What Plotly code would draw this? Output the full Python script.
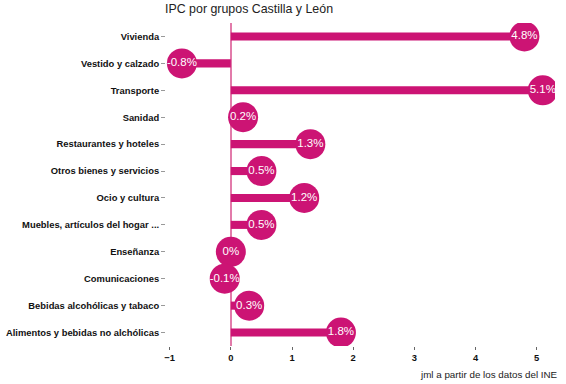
import plotly.graph_objects as go

categories = ["Vivienda", "Vestido y calzado", "Transporte", "Sanidad",
              "Restaurantes y hoteles", "Otros bienes y servicios", "Ocio y cultura",
              "Muebles, artículos del hogar ...", "Enseñanza", "Comunicaciones",
              "Bebidas alcohólicas y tabaco", "Alimentos y bebidas no alchólicas"]
values = [4.8, -0.8, 5.1, 0.2, 1.3, 0.5, 1.2, 0.5, 0.0, -0.1, 0.3, 1.8]
labels = [f"{v:g}%" for v in values]
x_ticks = [-1, 0, 1, 2, 3, 4, 5]

color = "#CC1474"

fig = go.Figure()
fig.add_trace(go.Bar(
    y=categories, x=values, orientation="h", width=0.3,
    marker=dict(color=color, line=dict(width=0)), hoverinfo="skip"))
fig.add_trace(go.Scatter(
    y=categories, x=values, mode="markers+text",
    marker=dict(size=30, color=color, line=dict(width=0)),
    text=labels, textposition="middle center",
    textfont=dict(color="white", size=11.5, family="Liberation Sans")))

fig.update_layout(
    width=566, height=384, showlegend=False,
    plot_bgcolor="white", paper_bgcolor="white",
    margin=dict(l=166, r=11, t=23, b=38, autoexpand=False),
    title=dict(text="IPC por grupos Castilla y León", x=165 / 566, xref="container",
               xanchor="left", y=1 - 4 / 384, yref="container", yanchor="top",
               automargin=False,
               font=dict(size=12.4, color="#222", family="Liberation Sans")),
    annotations=[dict(text="jml a partir de los datos del INE", xref="paper", yref="paper",
                      x=1.013, y=-0.066, xanchor="right", yanchor="top", showarrow=False,
                      font=dict(size=9.8, color="#222", family="Liberation Sans"))],
)
fig.update_yaxes(categoryorder="array", categoryarray=categories, range=[11.5, -0.5],
                 autorange=False, automargin=False,
                 showgrid=False, ticks="outside", ticklen=4, tickcolor="#999",
                 tickfont=dict(size=9.4, color="#111", family="Liberation Sans", weight="bold"),
                 showline=False, zeroline=False)
fig.update_xaxes(range=[-1.06, 5.3], tickvals=x_ticks, showgrid=False, automargin=False,
                 zeroline=True, zerolinecolor="#E27BAA", zerolinewidth=2,
                 ticks="outside", ticklen=3, tickcolor="#666",
                 tickfont=dict(size=9.4, color="#111", family="Liberation Sans", weight="bold"),
                 showline=False)

fig.write_html("out.html", config={"displayModeBar": False},
               post_script="document.body.style.margin='0';")
